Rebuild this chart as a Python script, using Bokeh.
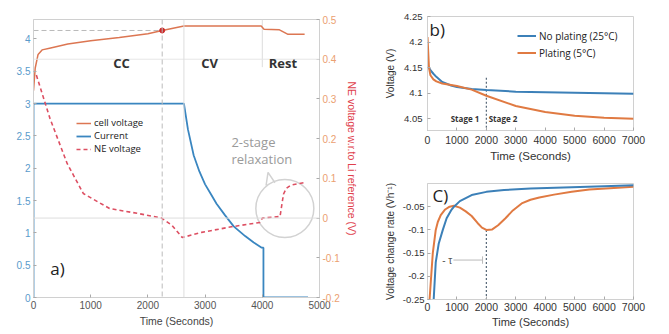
import math
from bokeh.plotting import figure
from bokeh.models import (LinearAxis, Range1d, Span, Label, Legend, LegendItem,
                          FixedTicker, PrintfTickFormatter)
from bokeh.layouts import row, column
from bokeh.embed import file_html
from bokeh.resources import INLINE

# ---------------- Panel a data ----------------
t_cell = [0, 30, 80, 150, 300, 600, 1000, 1500, 2000, 2250, 2630, 3980, 4030, 4300, 4450, 4740]
v_cell = [3.2, 3.55, 3.76, 3.83, 3.86, 3.92, 3.97, 4.02, 4.08, 4.13, 4.2, 4.2, 4.15, 4.14, 4.07, 4.07]
t_current = [0, 0, 2630, 2700, 2800, 2900, 3000, 3100, 3200, 3350, 3500, 3700, 3850, 3990, 4020, 4020, 4800]
current = [0, 3, 3, 2.6, 2.2, 1.95, 1.75, 1.6, 1.45, 1.27, 1.1, 0.95, 0.85, 0.77, 0.77, 0, 0]
t_ne = [50, 290, 590, 870, 1330, 1850, 2240, 2420, 2600, 2940, 3460, 3960, 4000, 4310, 4370, 4420, 4500, 4760]
v_ne = [0.36, 0.25, 0.137, 0.062, 0.024, 0.011, 0.0, -0.018, -0.049, -0.036, -0.022, -0.011, 0.0, 0.004, 0.06, 0.075, 0.083, 0.09]
a_xticks = [0, 1000, 2000, 3000, 4000, 5000]
a_left_ticks = [0, 0.5, 1, 1.5, 2, 2.5, 3, 3.5, 4]
a_right_ticks = [-0.2, -0.1, 0, 0.1, 0.2, 0.3, 0.4, 0.5]
t_tc, v_tc = 2250, 4.13
t_cv, t_rest = 2630, 4000

# ---------------- Panel b data ----------------
t_relax = [0, 50, 100, 200, 300, 500, 800, 1000, 1500, 2000, 3000, 4000, 5000, 6000, 7000]
v_noplating = [4.155, 4.15, 4.145, 4.138, 4.132, 4.122, 4.115, 4.112, 4.108, 4.106, 4.103, 4.102, 4.101, 4.1, 4.099]
v_plating = [4.21, 4.15, 4.135, 4.127, 4.123, 4.119, 4.116, 4.114, 4.107, 4.095, 4.075, 4.063, 4.056, 4.052, 4.05]
b_xticks = [0, 1000, 2000, 3000, 4000, 5000, 6000, 7000]
b_yticks = [4.05, 4.1, 4.15, 4.2, 4.25]

# ---------------- Panel c data ----------------
t_rate_np = [210, 280, 380, 520, 650, 800, 900, 1100, 1500, 2000, 2600, 3500, 4900, 6000, 7000]
rate_np = [-0.25, -0.17, -0.13, -0.1, -0.075, -0.058, -0.05, -0.038, -0.025, -0.018, -0.014, -0.011, -0.008, -0.006, -0.004]
t_rate_p = [70, 180, 280, 350, 450, 600, 750, 900, 1100, 1300, 1500, 1700, 1850, 2000, 2200, 2400,
            2650, 2900, 3200, 3500, 3800, 4300, 4900, 5500, 6200, 7000]
rate_p = [-0.25, -0.15, -0.1, -0.083, -0.068, -0.056, -0.05, -0.048, -0.052, -0.06, -0.07, -0.085, -0.095,
          -0.1, -0.099, -0.09, -0.075, -0.058, -0.043, -0.035, -0.03, -0.024, -0.018, -0.013, -0.01, -0.007]
c_yticks = [-0.25, -0.2, -0.15, -0.1, -0.05]
t_tau = 2000

# ---------------- styles ----------------
FONT = "Liberation Sans"
TFONT = "Open Sans"
BLUE = "#3a86c0"
CELL = "#dc7652"
NE = "#dd4f62"
B_BLUE = "#3c80b8"
B_ORANGE = "#e07a42"
FRAME = "#d0d0d0"


def style_axis(ax, color="#444444", size="10px"):
    ax.major_label_text_font = FONT
    ax.major_label_text_font_size = size
    ax.major_label_text_color = color
    ax.axis_line_color = FRAME
    ax.major_tick_line_color = "#aaaaaa"
    ax.major_tick_in = 3
    ax.major_tick_out = 0
    ax.minor_tick_line_color = None
    ax.axis_label_text_font = FONT
    ax.axis_label_text_font_style = "normal"
    ax.formatter = PrintfTickFormatter(format="%g")


def base_fig(w, h, xr, yr, l, r, t, b):
    p = figure(width=w, height=h, x_range=xr, y_range=yr, output_backend="svg",
               toolbar_location=None, min_border_left=l, min_border_right=r,
               min_border_top=t, min_border_bottom=b)
    p.xgrid.visible = False
    p.ygrid.visible = False
    p.outline_line_color = FRAME
    p.background_fill_color = "white"
    p.border_fill_color = "white"
    return p


# ================= Panel a =================
pa = base_fig(360, 334, Range1d(0, 5000), Range1d(0, 4.3), 33, 38, 19, 37)
pa.extra_y_ranges = {"ne": Range1d(-0.2, 0.5)}
right = LinearAxis(y_range_name="ne", axis_label="NE voltage w.r.to Li reference (V)")
pa.add_layout(right, "right")

style_axis(pa.xaxis[0], "#555555", "10px")
pa.xaxis[0].ticker = FixedTicker(ticks=a_xticks)
pa.xaxis[0].axis_label = "Time (Seconds)"
pa.xaxis[0].axis_label_text_font_size = "10.5px"
pa.xaxis[0].axis_label_text_color = "#444444"
pa.xaxis[0].axis_label_standoff = 3
pa.xaxis[0].major_label_standoff = 3

left = pa.left[0]
style_axis(left, "#5a9bcb", "10px")
left.ticker = FixedTicker(ticks=a_left_ticks)
left.major_label_standoff = 3

style_axis(right, "#eba070", "10px")
right.ticker = FixedTicker(ticks=a_right_ticks)
right.major_label_standoff = 3
right.axis_label_text_color = "#e0404c"
right.axis_label_text_font_size = "10.5px"
right.axis_label_standoff = 3

# reference lines
pa.add_layout(Span(location=0, dimension="width", y_range_name="ne", line_color="#dddddd", line_width=1))
pa.add_layout(Span(location=0.4, dimension="width", y_range_name="ne", line_color="#e6e6e6", line_width=1))
pa.add_layout(Span(location=t_cv, dimension="height", line_color="#dddddd", line_width=1))
pa.segment(x0=[t_rest], y0=[0.5], x1=[t_rest], y1=[0.38], y_range_name="ne", line_color="#dddddd", line_width=1)
pa.add_layout(Span(location=t_tc, dimension="height", line_color="#bbbbbb", line_width=1, line_dash="5 3"))
pa.segment(x0=[0], y0=[v_tc], x1=[t_tc], y1=[v_tc], line_color="#bbbbbb", line_width=1, line_dash="5 3")

# callout circle
pa.scatter(x=[4394], y=[0.024], y_range_name="ne", marker="circle", size=58,
           fill_color=None, line_color="#d2d2d2", line_width=1.5)
pa.line(x=[4066, 4100, 4221], y=[0.082, 0.115, 0.089], y_range_name="ne", line_color="#d2d2d2", line_width=1.5)

r_cur = pa.line(t_current, current, line_color=BLUE, line_width=1.8)
r_ne = pa.line(t_ne, v_ne, y_range_name="ne", line_color=NE, line_width=1.6, line_dash="4 3")
r_cell = pa.line(t_cell, v_cell, line_color=CELL, line_width=1.5)
pa.scatter(x=[t_tc], y=[v_tc], size=5, marker="circle", fill_color="#cc2a2a", line_color="#cc2a2a")

leg_a = Legend(items=[LegendItem(label="cell voltage", renderers=[r_cell]),
                      LegendItem(label="Current", renderers=[r_cur]),
                      LegendItem(label="NE voltage", renderers=[r_ne])],
               location=(43, 142), orientation="vertical")
leg_a.label_text_font = TFONT
leg_a.label_text_font_size = "9.5px"
leg_a.label_text_color = "#222222"
leg_a.glyph_width = 15
leg_a.glyph_height = 12
leg_a.label_height = 12
leg_a.label_standoff = 3
leg_a.spacing = 0
leg_a.padding = 2
leg_a.margin = 0
leg_a.background_fill_alpha = 0
leg_a.border_line_color = None
pa.add_layout(leg_a, "center")

# text annotations
for txt, tx in (("CC", 1540), ("CV", 3080), ("Rest", 4360)):
    pa.add_layout(Label(x=tx, y=3.62, text=txt, text_align="center", text_baseline="middle",
                        text_font=TFONT, text_font_size="13px", text_font_style="bold", text_color="#333333"))
pa.add_layout(Label(x=3460, y=2.4, text="2-stage", text_align="left", text_baseline="middle",
                    text_font=TFONT, text_font_size="13px", text_color="#9a9a9a"))
pa.add_layout(Label(x=3460, y=2.15, text="relaxation", text_align="left", text_baseline="middle",
                    text_font=TFONT, text_font_size="13px", text_color="#9a9a9a"))
pa.add_layout(Label(x=294, y=0.45, text="a)", text_align="left", text_baseline="middle",
                    text_font=TFONT, text_font_size="17px", text_color="#222222"))
pa.add_layout(Label(x=-467, y=4.15, text="V", text_align="left", text_baseline="middle",
                    text_font=FONT, text_font_size="13px", text_font_style="bold", text_color="#222222"))
pa.add_layout(Label(x=-300, y=4.065, text="tc", text_align="left", text_baseline="middle",
                    text_font=FONT, text_font_size="9px", text_font_style="bold", text_color="#222222"))
pa.add_layout(Label(x=-450, y=3.51, text="Cell voltage (V)", angle=math.pi / 2, text_align="center",
                    text_baseline="middle", text_font=FONT, text_font_size="10.5px", text_color="#ec9466"))
pa.add_layout(Label(x=-450, y=1.04, text="Current (A)", angle=math.pi / 2, text_align="center",
                    text_baseline="middle", text_font=FONT, text_font_size="10.5px", text_color="#5aa0d2"))

# ================= Panel b =================
pb = base_fig(309, 167, Range1d(0, 7000), Range1d(4.027, 4.25), 66, 36, 16, 37)
style_axis(pb.xaxis[0], "#333333", "10.5px")
pb.xaxis[0].ticker = FixedTicker(ticks=b_xticks)
pb.xaxis[0].axis_label = "Time (Seconds)"
pb.xaxis[0].axis_label_text_font_size = "11.5px"
pb.xaxis[0].axis_label_text_color = "#333333"
pb.xaxis[0].major_label_standoff = 5
pb.xaxis[0].axis_label_standoff = 3
style_axis(pb.yaxis[0], "#333333", "9.5px")
pb.yaxis[0].ticker = FixedTicker(ticks=b_yticks)
pb.yaxis[0].axis_label = "Voltage (V)"
pb.yaxis[0].axis_label_text_font_size = "10px"
pb.yaxis[0].axis_label_text_color = "#333333"
pb.yaxis[0].major_label_standoff = 5
pb.yaxis[0].axis_label_standoff = 5

pb.segment(x0=[t_tau], y0=[4.13], x1=[t_tau], y1=[4.027], line_color="#556677", line_width=1.2, line_dash="2 2")
r_np = pb.line(t_relax, v_noplating, line_color=B_BLUE, line_width=2)
r_p = pb.line(t_relax, v_plating, line_color=B_ORANGE, line_width=2)

leg_b = Legend(items=[LegendItem(label="No plating (25°C)", renderers=[r_np]),
                      LegendItem(label="Plating (5°C)", renderers=[r_p])],
               location=(90, 70))
leg_b.label_text_font = TFONT
leg_b.label_text_font_size = "10px"
leg_b.label_text_color = "#222222"
leg_b.glyph_width = 19
leg_b.glyph_height = 15
leg_b.label_height = 15
leg_b.label_standoff = 3
leg_b.spacing = 2
leg_b.padding = 2
leg_b.margin = 0
leg_b.background_fill_alpha = 0
leg_b.border_line_color = None
pb.add_layout(leg_b, "center")

pb.add_layout(Label(x=68, y=4.2245, text="b)", text_align="left", text_baseline="middle",
                    text_font=TFONT, text_font_size="17px", text_color="#222222"))
pb.add_layout(Label(x=1760, y=4.05, text="Stage 1", text_align="right", text_baseline="middle",
                    text_font=TFONT, text_font_size="8px", text_font_style="bold", text_color="#333333"))
pb.add_layout(Label(x=2080, y=4.05, text="Stage 2", text_align="left", text_baseline="middle",
                    text_font=TFONT, text_font_size="8px", text_font_style="bold", text_color="#333333"))

# ================= Panel c =================
pc = base_fig(309, 167, Range1d(0, 7000), Range1d(-0.25, 0), 67, 36, 16, 35)
style_axis(pc.xaxis[0], "#333333", "10.5px")
pc.xaxis[0].ticker = FixedTicker(ticks=b_xticks)
pc.xaxis[0].axis_label = "Time (Seconds)"
pc.xaxis[0].axis_label_text_font_size = "11px"
pc.xaxis[0].axis_label_text_color = "#333333"
pc.xaxis[0].major_label_standoff = 3
pc.xaxis[0].axis_label_standoff = 2
style_axis(pc.yaxis[0], "#333333", "9.5px")
pc.yaxis[0].ticker = FixedTicker(ticks=c_yticks)
pc.yaxis[0].axis_label = "Voltage change rate (Vh⁻¹)"
pc.yaxis[0].axis_label_text_font_size = "10px"
pc.yaxis[0].axis_label_text_color = "#333333"
pc.yaxis[0].major_label_standoff = 3
pc.yaxis[0].axis_label_standoff = 4

pc.segment(x0=[t_tau], y0=[-0.1], x1=[t_tau], y1=[-0.25], line_color="#556677", line_width=1.2, line_dash="2 2")
pc.segment(x0=[880], y0=[-0.165], x1=[1870], y1=[-0.165], line_color="#bbbbbb", line_width=1)
pc.segment(x0=[1870], y0=[-0.157], x1=[1870], y1=[-0.173], line_color="#bbbbbb", line_width=1)
pc.add_layout(Label(x=500, y=-0.165, text="- τ", text_align="left", text_baseline="middle",
                    text_font=FONT, text_font_size="10px", text_color="#555555"))
pc.line(t_rate_p, rate_p, line_color=B_ORANGE, line_width=2)
pc.line(t_rate_np, rate_np, line_color=B_BLUE, line_width=2)
pc.add_layout(Label(x=170, y=-0.0266, text="C)", text_align="left", text_baseline="middle",
                    text_font=TFONT, text_font_size="17px", text_color="#222222"))

layout = row(pa, column(pb, pc, spacing=0), spacing=0)
open("out.html", "w").write(file_html(layout, INLINE))
